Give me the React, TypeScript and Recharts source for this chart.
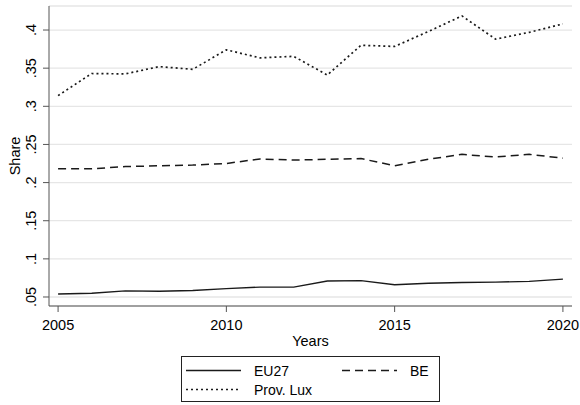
import { CartesianGrid, Legend, Line, LineChart, XAxis, YAxis } from "recharts";

const years = [2005, 2006, 2007, 2008, 2009, 2010, 2011, 2012, 2013, 2014, 2015, 2016, 2017, 2018, 2019, 2020];
const eu27 = [0.054, 0.055, 0.058, 0.0575, 0.0585, 0.061, 0.063, 0.063, 0.071, 0.0715, 0.066, 0.068, 0.069, 0.0695, 0.0705, 0.0735];
const be = [0.218, 0.218, 0.221, 0.222, 0.223, 0.225, 0.231, 0.2295, 0.2305, 0.2315, 0.222, 0.2305, 0.237, 0.2335, 0.237, 0.232];
const provLux = [0.314, 0.343, 0.3425, 0.352, 0.3485, 0.374, 0.3635, 0.3655, 0.341, 0.38, 0.3785, 0.398, 0.4185, 0.388, 0.397, 0.408];
const yTicks = [0.05, 0.1, 0.15, 0.2, 0.25, 0.3, 0.35, 0.4];
const xTicks = [2005, 2010, 2015, 2020];

const data = years.map((year, i) => ({ year, eu27: eu27[i], be: be[i], provLux: provLux[i] }));

const font = "'Liberation Sans', Arial, sans-serif";
const ink = "#1a1a1a";
const axisColor = "#555";

const fmt = (v: number) => String(+v.toFixed(2)).replace(/^0/, "");

function YTick({ x, y, payload }: any) {
  const tx = x - 5;
  return (
    <text
      x={tx}
      y={y}
      transform={`rotate(-90, ${tx}, ${y})`}
      textAnchor="middle"
      fontSize={14.5}
      fontFamily={font}
      fill="#000"
    >
      {fmt(payload.value)}
    </text>
  );
}

// legend slot per series name (two columns, two rows)
const legendSlots: Record<string, { x: number; y: number; tx: number }> = {
  EU27: { x: 5, y: 14.5, tx: 73 },
  BE: { x: 161, y: 14.5, tx: 229 },
  "Prov. Lux": { x: 5, y: 33.5, tx: 73 },
};

function LegendBox({ payload }: any) {
  return (
    <svg width={260} height={47} style={{ display: "block" }}>
      <rect x={0.5} y={0.5} width={258} height={45} fill="#fff" stroke="#222" strokeWidth={1} />
      {(payload || []).map((entry: any) => {
        const s = legendSlots[entry.value];
        if (!s) return null;
        return (
          <g key={entry.value}>
            <line
              x1={s.x}
              x2={s.x + 55}
              y1={s.y}
              y2={s.y}
              stroke={ink}
              strokeWidth={1.4}
              strokeDasharray={entry.payload?.strokeDasharray}
            />
            <text x={s.tx} y={s.y + 5} fontSize={14} fontFamily={font} fill="#000">
              {entry.value}
            </text>
          </g>
        );
      })}
    </svg>
  );
}

export default function App() {
  return (
    <div style={{ position: "absolute", left: 0, top: 0, width: 580, height: 405, background: "#fff" }}>
      <LineChart width={580} height={405} data={data} margin={{ top: 6, right: 8, left: 0, bottom: 0 }}>
        <CartesianGrid vertical={false} stroke="#e6e6e6" strokeWidth={1.3} />
        <XAxis
          dataKey="year"
          type="number"
          domain={[2004.73, 2020.27]}
          ticks={xTicks}
          allowDataOverflow
          height={99}
          tickSize={6}
          tickMargin={8}
          stroke={axisColor}
          tick={{ fill: "#000", fontSize: 14.5, fontFamily: font }}
          label={({ viewBox }: any) => (
            <text
              x={viewBox.x + viewBox.width / 2}
              y={viewBox.y + 40}
              textAnchor="middle"
              fontSize={14.5}
              fontFamily={font}
              fill="#000"
            >
              Years
            </text>
          )}
        />
        <YAxis
          type="number"
          domain={[0.0382, 0.4315]}
          ticks={yTicks}
          allowDataOverflow
          width={49}
          tickSize={6}
          stroke={axisColor}
          tick={<YTick />}
          label={({ viewBox }: any) => (
            <text
              x={15}
              y={viewBox.y + viewBox.height / 2}
              transform={`rotate(-90, 15, ${viewBox.y + viewBox.height / 2})`}
              textAnchor="middle"
              dominantBaseline="central"
              fontSize={14.5}
              fontFamily={font}
              fill="#000"
            >
              Share
            </text>
          )}
        />
        <Legend
          layout="horizontal"
          verticalAlign="middle"
          align="center"
          wrapperStyle={{ position: "absolute", left: 181, top: 356, width: 260, height: 47 }}
          content={<LegendBox />}
        />
        <Line dataKey="eu27" name="EU27" stroke={ink} strokeWidth={1.4} dot={false} isAnimationActive={false} />
        <Line dataKey="be" name="BE" stroke={ink} strokeWidth={1.5} strokeDasharray="8 5" dot={false} isAnimationActive={false} />
        <Line dataKey="provLux" name="Prov. Lux" stroke={ink} strokeWidth={1.7} strokeDasharray="2 3" dot={false} isAnimationActive={false} />
      </LineChart>
    </div>
  );
}
